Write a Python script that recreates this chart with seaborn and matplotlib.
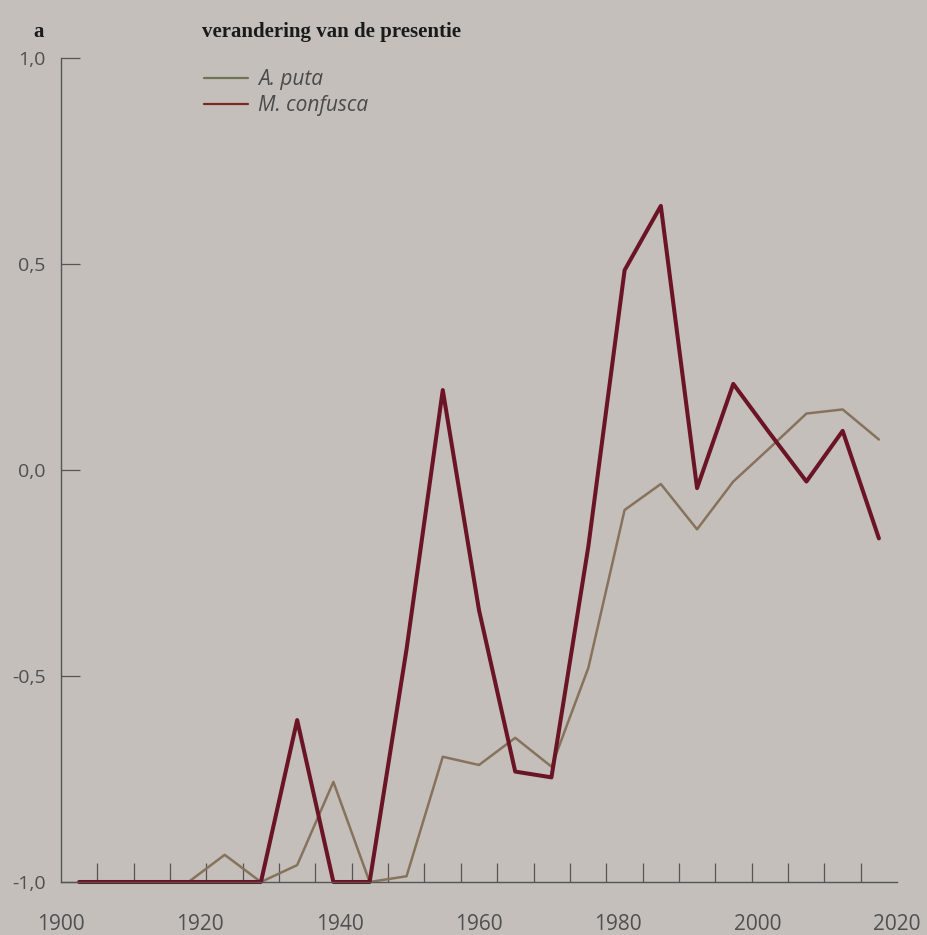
import numpy as np
import pandas as pd
import seaborn as sns
import matplotlib.pyplot as plt

# bin centres (120 years split in 23 bins)
years = [1902.6, 1907.8, 1913.0, 1918.3, 1923.5, 1928.7, 1933.9, 1939.1,
         1944.3, 1949.6, 1954.8, 1960.0, 1965.2, 1970.4, 1975.7, 1980.9,
         1986.1, 1991.3, 1996.5, 2001.7, 2007.0, 2012.2, 2017.4]

a_puta = [-1.0, -1.0, -1.0, -1.0, -0.934, -1.0, -0.959, -0.757,
          -1.0, -0.986, -0.696, -0.716, -0.650, -0.720, -0.480, -0.097,
          -0.034, -0.144, -0.028, 0.053, 0.137, 0.147, 0.074]

m_confusca = [-1.0, -1.0, -1.0, -1.0, -1.0, -1.0, -0.607, -1.0,
              -1.0, -0.435, 0.194, -0.340, -0.732, -0.746, -0.185, 0.485,
              0.641, -0.044, 0.209, 0.090, -0.028, 0.095, -0.166]

series_names = ["A. puta", "M. confusca"]
y_ticks = [-1.0, -0.5, 0.0, 0.5, 1.0]
y_ticklabels = ["-1,0", "-0,5", "0,0", "0,5", "1,0"]
x_ticks = [1900, 1920, 1940, 1960, 1980, 2000, 2020]

df = pd.DataFrame({"jaar": years, "A. puta": a_puta, "M. confusca": m_confusca})

BG = "#c4bfba"
AXIS = "#555555"

sns.set_theme(style="white")
plt.rcParams["font.family"] = ["Open Sans", "DejaVu Sans"]

fig = plt.figure(figsize=(9.27, 9.35), dpi=100, facecolor=BG)
ax = fig.add_axes([61 / 927, 53 / 935, 836 / 927, 824 / 935])
ax.set_facecolor(BG)

# A. puta first, M. confusca drawn on top
sns.lineplot(data=df, x="jaar", y="A. puta", ax=ax, color="#87735d",
             linewidth=1.8, label=series_names[0], clip_on=False)
sns.lineplot(data=df, x="jaar", y="M. confusca", ax=ax, color="#6a1426",
             linewidth=2.9, label=series_names[1], clip_on=False)

ax.set_xlim(1900, 2020)
ax.set_ylim(-1, 1)
ax.set_xlabel("")
ax.set_ylabel("")

for s in ["top", "right"]:
    ax.spines[s].set_visible(False)
for s in ["left", "bottom"]:
    ax.spines[s].set_color(AXIS)
    ax.spines[s].set_linewidth(1.0)

ax.set_yticks(y_ticks)
ax.set_yticklabels(y_ticklabels)
ax.tick_params(axis="y", direction="in", length=14, width=0.9, color=AXIS,
               pad=11, labelsize=14, labelcolor="#505050", left=True)
ax.set_xticks(x_ticks)
ax.set_xticklabels([str(x) for x in x_ticks])
ax.tick_params(axis="x", which="major", length=0, pad=23, labelsize=15,
               labelcolor="#505050")
# small inward ticks on the bin edges
ax.set_xticks(np.linspace(1900, 2020, 24)[1:], minor=True)
ax.tick_params(axis="x", which="minor", direction="in", length=14, width=0.9,
               color=AXIS, bottom=True)

leg = ax.legend(loc="upper left", bbox_to_anchor=(204 / 927, 1 - 69 / 935),
                bbox_transform=fig.transFigure, frameon=False,
                handlelength=2.1, handletextpad=0.5, labelspacing=0.25,
                borderpad=0, borderaxespad=0,
                prop={"style": "italic", "size": 15})
for h, c in zip(leg.legend_handles, ["#6f7456", "#7a2a22"]):
    h.set_color(c)
    h.set_linewidth(1.6)
for t in leg.get_texts():
    t.set_color("#4a4a4a")

fig.text(33 / 927, 1 - 37 / 935, "a", fontsize=15, fontweight="bold",
         family="Liberation Serif", color="#1a1a1a", va="baseline")
fig.text(202 / 927, 1 - 37 / 935, "verandering van de presentie", fontsize=15,
         fontweight="bold", family="Liberation Serif", color="#1a1a1a",
         va="baseline")

fig.savefig("out.png", dpi=100, facecolor=BG)
